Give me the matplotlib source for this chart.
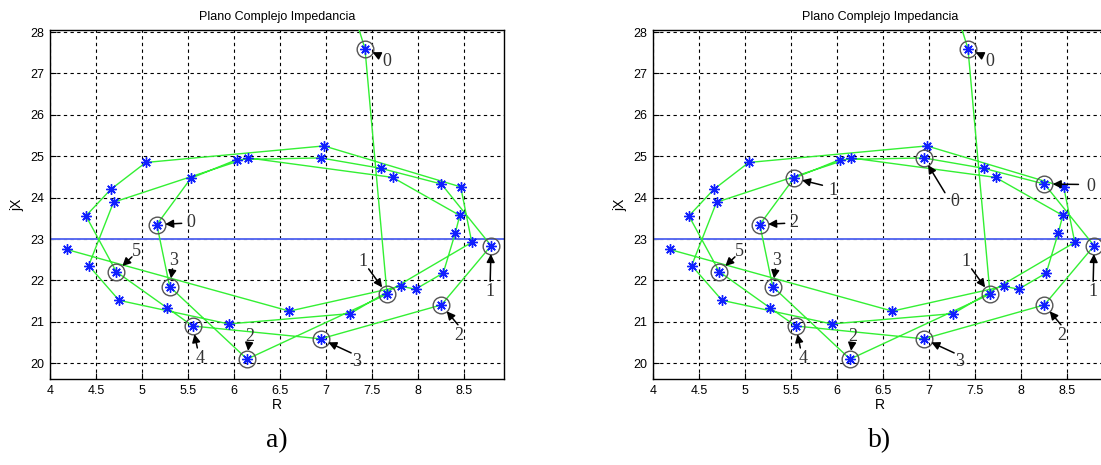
import matplotlib
matplotlib.use("Agg")
import matplotlib.pyplot as plt

plt.rcParams["font.family"] = ["Liberation Sans", "DejaVu Sans"]

# impedance trajectory (R, jX) in time order
traj_r = [7.28, 7.42, 7.66, 6.14, 5.30, 5.16, 5.53, 6.03, 6.94, 7.59, 8.25, 8.79, 8.25,
          6.94, 5.55, 5.27, 4.72, 4.39, 4.66, 5.04, 6.975, 8.46, 8.58, 7.26, 5.94, 4.75,
          4.42, 4.69, 6.15, 7.72, 8.45, 8.40, 8.27, 7.97, 7.81, 6.60, 4.18]
traj_x = [28.60, 27.60, 21.67, 20.10, 21.85, 23.35, 24.47, 24.92, 24.96, 24.71, 24.33, 22.84, 21.41,
          20.59, 20.90, 21.34, 22.21, 23.56, 24.20, 24.85, 25.25, 24.26, 22.92, 21.20, 20.95, 21.52,
          22.36, 23.89, 24.96, 24.49, 23.57, 23.14, 22.18, 21.79, 21.86, 21.26, 22.75]

limit_x = 23.0

# marked samples: index into trajectory, label, text position, arrow tail
marks_a = [(1, "0", (7.66, 27.28), (7.58, 27.43)),
           (5, "0", (5.53, 23.39), (5.43, 23.38)),
           (16, "5", (4.94, 22.69), (4.89, 22.57)),
           (4, "3", (5.34, 22.49), (5.33, 22.28)),
           (14, "4", (5.63, 20.12), (5.60, 20.37)),
           (3, "2", (6.17, 20.64), (6.16, 20.46)),
           (13, "3", (7.33, 20.04), (7.27, 20.25)),
           (12, "2", (8.44, 20.68), (8.43, 20.93)),
           (11, "1", (8.78, 21.73), (8.78, 21.98)),
           (2, "1", (7.40, 22.45), (7.46, 22.28))]

marks_b = [(1, "0", (7.66, 27.28), (7.58, 27.43)),
           (8, "0", (7.28, 23.90), (7.17, 24.12)),
           (10, "0", (8.75, 24.28), (8.62, 24.32)),
           (6, "1", (5.95, 24.18), (5.84, 24.30)),
           (5, "2", (5.53, 23.39), (5.43, 23.38)),
           (16, "5", (4.94, 22.69), (4.89, 22.57)),
           (4, "3", (5.34, 22.49), (5.33, 22.28)),
           (14, "4", (5.63, 20.12), (5.60, 20.37)),
           (3, "2", (6.17, 20.64), (6.16, 20.46)),
           (13, "3", (7.33, 20.04), (7.27, 20.25)),
           (12, "2", (8.44, 20.68), (8.43, 20.93)),
           (11, "1", (8.78, 21.73), (8.78, 21.98)),
           (2, "1", (7.40, 22.45), (7.46, 22.28))]

xticks = [4, 4.5, 5, 5.5, 6, 6.5, 7, 7.5, 8, 8.5]
yticks = [20, 21, 22, 23, 24, 25, 26, 27, 28]

fig = plt.figure(figsize=(11.01, 4.65), dpi=100)
ax_a = fig.add_axes([50 / 1101, 1 - 379 / 465, 454 / 1101, 349 / 465])
ax_b = fig.add_axes([653 / 1101, 1 - 379 / 465, 454 / 1101, 349 / 465])


def draw(ax, marks, tag):
    ax.plot(traj_r, traj_x, color="#33f033", lw=1.0, zorder=3)
    ax.plot(traj_r, traj_x, ls="none", marker=(8, 2, 0), ms=7.5, mec="#1020ff",
            mew=1.0, zorder=4)
    ax.axhline(limit_x, color="#5a6cf0", lw=1.4, zorder=2)
    for idx, lab, tpos, tail in marks:
        ax.plot(traj_r[idx], traj_x[idx], ls="none", marker="o", ms=12, mfc="none",
                mec="#555555", mew=1.0, zorder=5)
        ax.annotate("", xy=(traj_r[idx], traj_x[idx]), xytext=tail,
                    arrowprops=dict(arrowstyle="-|>", color="k", lw=1.1,
                                    mutation_scale=12, shrinkB=6, shrinkA=0),
                    zorder=6)
        ax.text(tpos[0], tpos[1], lab, family="Liberation Serif", fontsize=13,
                color="#333333", ha="center", va="center", zorder=6)
    ax.set_xlim(4, 8.93)
    ax.set_ylim(19.62, 28.05)
    ax.set_xticks(xticks)
    ax.set_xticklabels([f"{t:g}" for t in xticks])
    ax.set_yticks(yticks)
    ax.tick_params(direction="in", length=4, labelsize=9, pad=4)
    ax.grid(True, color="k", ls=(0, (3, 3)), lw=0.8)
    for s in ax.spines.values():
        s.set_linewidth(1.0)
    ax.set_title("Plano Complejo Impedancia", fontsize=9, pad=7)
    ax.set_xlabel("R", fontsize=10, labelpad=1)
    ax.set_ylabel("jX", fontsize=10, labelpad=4)
    pos = ax.get_position()
    fig.text(pos.x0 + 227 / 1101, 0.052, tag, family="Liberation Serif",
             fontsize=20, ha="center", va="center")


draw(ax_a, marks_a, "a)")
draw(ax_b, marks_b, "b)")

fig.savefig("out.png", dpi=100)
